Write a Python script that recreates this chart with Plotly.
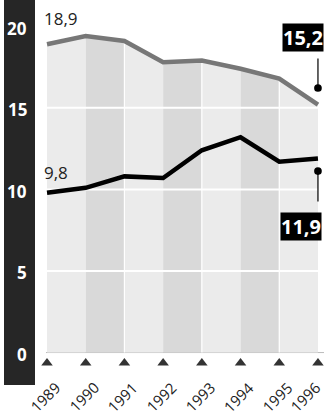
import plotly.graph_objects as go

years = [1989, 1990, 1991, 1992, 1993, 1994, 1995, 1996]
series_top = [18.9, 19.4, 19.1, 17.8, 17.9, 17.4, 16.8, 15.2]
series_bottom = [9.8, 10.1, 10.8, 10.7, 12.4, 13.2, 11.7, 11.9]
ytick_vals = [0, 5, 10, 15, 20]
ytick_text = ["0", "5", "10", "15", "20"]
start_labels = ["18,9", "9,8"]
end_labels = ["15,2", "11,9"]

FONT = "Open Sans"
band_colors = ["#ebebeb", "#d9d9d9"]

fig = go.Figure()

# alternating column bands filled up to the top series
for i in range(len(years) - 1):
    fig.add_trace(go.Scatter(
        x=[years[i], years[i], years[i + 1], years[i + 1]],
        y=[0, series_top[i], series_top[i + 1], 0],
        fill="toself", fillcolor=band_colors[i % 2],
        line=dict(width=0), mode="lines", hoverinfo="skip", showlegend=False))

# white horizontal grid lines inside the filled area
for v in ytick_vals[1:-1]:
    fig.add_trace(go.Scatter(x=[years[0], years[-1]], y=[v, v], mode="lines",
                             line=dict(color="white", width=2), hoverinfo="skip", showlegend=False))
# white separators
for j in [2, 4, 6]:
    fig.add_trace(go.Scatter(x=[years[j], years[j]], y=[0, series_top[j]], mode="lines",
                             line=dict(color="white", width=1.2), hoverinfo="skip", showlegend=False))

fig.add_trace(go.Scatter(x=years, y=series_top, mode="lines",
                         line=dict(color="#777777", width=4.5), showlegend=False))
fig.add_trace(go.Scatter(x=years, y=series_bottom, mode="lines",
                         line=dict(color="#000000", width=4.5), showlegend=False))

# triangles under the axis
fig.add_trace(go.Scatter(x=years, y=[-0.64] * len(years), mode="markers",
                         marker=dict(symbol="triangle-up", size=10, color="#333333"),
                         cliponaxis=False, showlegend=False))

annotations = []
for v, t in zip(ytick_vals, ytick_text):
    annotations.append(dict(xref="paper", x=0, xshift=-11, xanchor="right", yref="y", y=v,
                            yshift=-2, yanchor="middle", showarrow=False, text=t,
                            font=dict(family=FONT, size=17, color="white", weight="bold")))
for k, yr in enumerate(years):
    annotations.append(dict(xref="x", x=yr, xshift=(-13 if k == len(years) - 1 else -2),
                            yref="paper", y=-0.075, xanchor="center", yanchor="middle",
                            textangle=-45, showarrow=False, text=str(yr),
                            font=dict(family=FONT, size=15, color="#222222")))
# start labels
annotations.append(dict(x=years[0], y=series_top[0], xanchor="left", yanchor="bottom", xshift=-5,
                        yshift=12, showarrow=False, text=start_labels[0],
                        font=dict(family=FONT, size=17, color="#222222")))
annotations.append(dict(x=years[0], y=series_bottom[0], xanchor="left", yanchor="bottom", xshift=-5,
                        yshift=7, showarrow=False, text=start_labels[1],
                        font=dict(family=FONT, size=17, color="#222222")))
# end labels in black boxes
annotations.append(dict(x=years[-1], y=series_top[-1], xanchor="right", yanchor="bottom", xshift=6,
                        yshift=52.6, showarrow=False, text=end_labels[0], bgcolor="#000000",
                        borderpad=0,
                        font=dict(family=FONT, size=20, color="white", weight="bold")))
annotations.append(dict(x=years[-1], y=series_bottom[-1], xanchor="right", yanchor="top", xshift=4,
                        yshift=-53.6, showarrow=False, text=end_labels[1], bgcolor="#000000",
                        borderpad=0,
                        font=dict(family=FONT, size=20, color="white", weight="bold")))
# leader lines with dots
annotations.append(dict(x=years[-1], y=series_top[-1], ax=0, ay=-47.6, text="", showarrow=True,
                        arrowhead=6, arrowsize=1.6, arrowwidth=1.2, arrowcolor="#000000",
                        standoff=16.6))
annotations.append(dict(x=years[-1], y=series_bottom[-1], ax=0, ay=44.6, text="", showarrow=True,
                        arrowhead=6, arrowsize=1.6, arrowwidth=1.2, arrowcolor="#000000",
                        standoff=12.6))

shapes = [
    dict(type="rect", xref="paper", yref="paper", x0=-36 / 284, x1=-5 / 284,
         y0=-15 / 360, y1=1 + 10 / 360, fillcolor="#262626", line=dict(width=0), layer="below"),
    dict(type="line", xref="paper", yref="y", x0=6 / 284, x1=1, y0=0, y1=0,
         line=dict(color="#bbbbbb", width=1), layer="below"),
]

fig.update_layout(
    width=324, height=420,
    margin=dict(l=40, r=0, t=10, b=50),
    paper_bgcolor="white", plot_bgcolor="white",
    xaxis=dict(range=[1988.819, 1996.156], showgrid=False, zeroline=False,
               showticklabels=False, ticks="", showline=False, fixedrange=True),
    yaxis=dict(range=[-1.07, 21.0], showgrid=False, zeroline=False,
               showticklabels=False, ticks="", showline=False, fixedrange=True),
    annotations=annotations, shapes=shapes,
    font=dict(family=FONT),
)

fig.write_html("out.html")
